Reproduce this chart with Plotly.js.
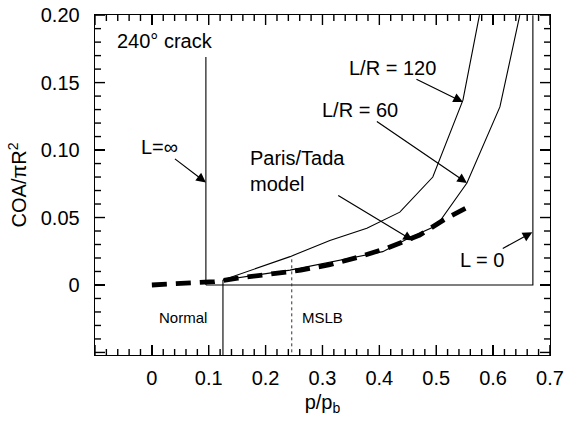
<!DOCTYPE html>
<html>
<head>
<meta charset="utf-8">
<script src="https://cdn.plot.ly/plotly-3.0.1.min.js"></script>
<style>html,body{margin:0;padding:0;background:#fff}</style>
</head>
<body>
<div id="chart"></div>
<script>
// ---- data ----
const parisTadaP   = [0, 0.06, 0.11, 0.151, 0.209, 0.262, 0.313, 0.362, 0.415, 0.471, 0.518, 0.562];
const parisTadaCOA = [0, 0.0015, 0.0025, 0.005, 0.008, 0.011, 0.015, 0.0205, 0.0275, 0.037, 0.0495, 0.059];

const lr120P   = [0.125, 0.243, 0.313, 0.378, 0.436, 0.494, 0.547, 0.576];
const lr120COA = [0.0037, 0.021, 0.033, 0.042, 0.054, 0.080, 0.137, 0.200];

const lr60P   = [0.125, 0.243, 0.406, 0.453, 0.501, 0.554, 0.612, 0.647];
const lr60COA = [0.0037, 0.011, 0.0247, 0.035, 0.044, 0.0756, 0.132, 0.200];

const lInfP   = [0.095, 0.095];
const lInfCOA = [0.169, 0];

const l0P   = [0.095, 0.67, 0.67];
const l0COA = [0, 0, 0.2];

const normalLimitP   = [0.125, 0.125];
const normalLimitCOA = [0.0037, -0.06];

const mslbP   = [0.246, 0.246];
const mslbCOA = [0.019, -0.06];

const xTickVals = [0, 0.1, 0.2, 0.3, 0.4, 0.5, 0.6, 0.7];
const xTickText = ["0", "0.1", "0.2", "0.3", "0.4", "0.5", "0.6", "0.7"];
const yTickVals = [0, 0.05, 0.10, 0.15, 0.20];
const yTickText = ["0", "0.05", "0.10", "0.15", "0.20"];

// ---- chart ----
const FONT = "Liberation Sans, Arial, Helvetica, sans-serif";
const W = 571, H = 423;
const M = {l: 95, r: 21, t: 15, b: 68};
const X_RANGE = [-0.1, 0.7001];
const Y_RANGE = [-0.0519, 0.2001];
const thin = {color: "#000", width: 1.1};

// inward frame ticks (major every 0.1 / 0.05, minor every 0.02 / 0.01), lengths in pixels
const dxPx = (X_RANGE[1] - X_RANGE[0]) / (W - M.l - M.r);
const dyPx = (Y_RANGE[1] - Y_RANGE[0]) / (H - M.t - M.b);
const tickX = [], tickY = [];
for (let i = -5; i <= 35; i++) {
  const v = +(i * 0.02).toFixed(4), len = (i % 5 === 0) ? 10 : 6;
  tickX.push(v, v, null, v, v, null);
  tickY.push(Y_RANGE[0], Y_RANGE[0] + len * dyPx, null, Y_RANGE[1], Y_RANGE[1] - len * dyPx, null);
}
for (let i = -5; i <= 20; i++) {
  const v = +(i * 0.01).toFixed(4), len = (i % 5 === 0) ? 10 : 6;
  tickX.push(X_RANGE[0], X_RANGE[0] + len * dxPx, null, X_RANGE[1], X_RANGE[1] - len * dxPx, null);
  tickY.push(v, v, null, v, v, null);
}

const traces = [
  {x: tickX, y: tickY, mode: "lines", line: {color: "#000", width: 1.4}, connectgaps: false, hoverinfo: "skip", cliponaxis: false, name: "ticks"},
  {x: lr120P, y: lr120COA, mode: "lines", line: thin, name: "L/R = 120"},
  {x: lr60P, y: lr60COA, mode: "lines", line: thin, name: "L/R = 60"},
  {x: lInfP, y: lInfCOA, mode: "lines", line: thin, name: "L=∞"},
  {x: l0P, y: l0COA, mode: "lines", line: thin, name: "L = 0"},
  {x: normalLimitP, y: normalLimitCOA, mode: "lines", line: thin, name: "Normal"},
  {x: mslbP, y: mslbCOA, mode: "lines", line: {color: "#333", width: 1, dash: "dot"}, name: "MSLB"},
  {x: parisTadaP, y: parisTadaCOA, mode: "lines", line: {color: "#000", width: 4.8, dash: "15px,9px"}, name: "Paris/Tada model"}
];

function label(text, x, y, opts) {
  return Object.assign({x: x, y: y, xref: "x", yref: "y", text: text, showarrow: false,
    font: {family: FONT, size: 20, color: "#000"}, xanchor: "left", yanchor: "middle"}, opts || {});
}
// text centred at (ax, ay) with an arrow pointing to (x, y)
function pointer(text, x, y, ax, ay) {
  return {x: x, y: y, ax: ax, ay: ay, xref: "x", yref: "y", axref: "x", ayref: "y",
    text: text, align: "left", font: {family: FONT, size: 20, color: "#000"},
    showarrow: true, arrowhead: 2, arrowsize: 1.6, arrowwidth: 1.2, arrowcolor: "#000", standoff: 0, borderpad: 0};
}

const annotations = [
  label("240° crack", -0.065, 0.181),
  pointer("L=∞", 0.095, 0.076, 0.014, 0.102),
  pointer("L/R = 120", 0.547, 0.1356, 0.424, 0.161),
  pointer("L/R = 60", 0.554, 0.0756, 0.366, 0.1296),
  pointer("Paris/Tada<br>model", 0.459, 0.033, 0.256, 0.0844),
  pointer("L = 0", 0.669, 0.039, 0.58, 0.0185),
  label("Normal", 0.054, -0.0244, {xanchor: "center", font: {family: FONT, size: 15, color: "#000"}}),
  label("MSLB", 0.30, -0.0244, {xanchor: "center", font: {family: FONT, size: 15, color: "#000"}})
];

const axisCommon = {
  showline: true, linecolor: "#000", linewidth: 1.3, mirror: "ticks",
  ticks: "inside", ticklen: 10, tickwidth: 1.4, tickcolor: "#000",
  showgrid: false, zeroline: false, tickmode: "array",
  tickfont: {family: FONT, size: 20, color: "#000"}
};

const layout = {
  width: W, height: H,
  margin: M,
  showlegend: false,
  xaxis: Object.assign({}, axisCommon, {
    range: X_RANGE, tickvals: xTickVals, ticktext: xTickText,
    ticklabelstandoff: 5,
    title: {text: "p/p<sub>b</sub>", font: {family: FONT, size: 20, color: "#000"}, standoff: 6}
  }),
  yaxis: Object.assign({}, axisCommon, {
    range: Y_RANGE, tickvals: yTickVals, ticktext: yTickText,
    ticklabelstandoff: 10,
    title: {text: "COA/πR<sup>2</sup>", font: {family: FONT, size: 20, color: "#000"}, standoff: 8}
  }),
  annotations: annotations
};

Plotly.newPlot("chart", traces, layout, {staticPlot: true, displayModeBar: false});
</script>
</body>
</html>
